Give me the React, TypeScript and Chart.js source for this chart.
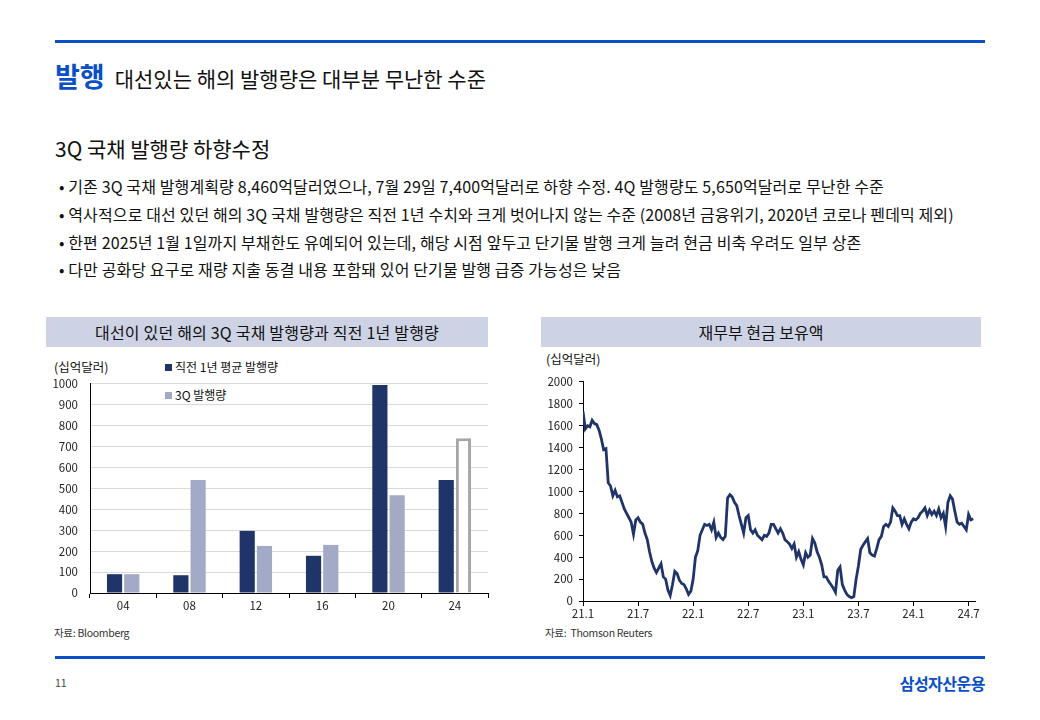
import React, { useEffect, useRef } from "react";
import { Chart, registerables } from "chart.js";

Chart.register(...registerables);

const FONT = '"Noto Sans CJK KR", "Noto Sans", sans-serif';
const NAVY = "#1f3468";
const LIGHT = "#a3aac6";
const BLUE = "#0a4fc8";

// Left chart data
const barCategories = ["04", "08", "12", "16", "20", "24"];
const prevYearAvg = [90, 85, 297, 178, 995, 540];
const q3Issuance = [90, 540, 225, 230, 468, 740];
const barYTicks = [0, 100, 200, 300, 400, 500, 600, 700, 800, 900, 1000];

// Right chart data (weekly-ish samples, quarter-month step from Jan 2021)
const cashStepMonths = 0.25;
const cash2021H1 = [1730, 1570, 1600, 1590, 1650, 1620, 1610, 1560, 1480, 1380, 1390, 1080, 1050, 960, 1010, 950, 960, 900, 840, 800, 760, 720, 610, 740];
const cash2021H2 = [760, 720, 700, 620, 560, 450, 360, 300, 260, 300, 340, 220, 200, 100, 50, 150, 270, 250, 190, 160, 150, 110, 60, 90];
const cash2022H1 = [200, 400, 460, 600, 650, 700, 690, 700, 650, 720, 580, 620, 580, 560, 590, 940, 970, 950, 900, 870, 780, 700, 620, 760];
const cash2022H2 = [780, 650, 620, 650, 600, 580, 560, 600, 590, 620, 700, 700, 660, 620, 660, 620, 560, 540, 520, 480, 520, 400, 450, 380];
const cash2023H1 = [330, 440, 400, 420, 570, 530, 450, 400, 330, 220, 220, 180, 150, 120, 80, 280, 310, 150, 100, 60, 40, 30, 40, 200];
const cash2023H2 = [320, 470, 510, 540, 570, 440, 420, 410, 480, 560, 590, 680, 700, 680, 720, 850, 820, 780, 780, 700, 750, 700, 660, 720];
const cash2024 = [750, 740, 760, 800, 820, 850, 780, 830, 790, 820, 780, 840, 760, 800, 680, 900, 960, 930, 820, 720, 700, 710, 680, 650, 790, 740, 750];
const cashBalance = [...cash2021H1, ...cash2021H2, ...cash2022H1, ...cash2022H2, ...cash2023H1, ...cash2023H2, ...cash2024];
const cashTickLabels = ["21.1", "21.7", "22.1", "22.7", "23.1", "23.7", "24.1", "24.7"];
const cashYTicks = [0, 200, 400, 600, 800, 1000, 1200, 1400, 1600, 1800, 2000];

const bullets = [
  "기존 3Q 국채 발행계획량 8,460억달러였으나, 7월 29일 7,400억달러로 하향 수정. 4Q 발행량도 5,650억달러로 무난한 수준",
  "역사적으로 대선 있던 해의 3Q 국채 발행량은 직전 1년 수치와 크게 벗어나지 않는 수준 (2008년 금융위기, 2020년 코로나 펜데믹 제외)",
  "한편 2025년 1월 1일까지 부채한도 유예되어 있는데, 해당 시점 앞두고 단기물 발행 크게 늘려 현금 비축 우려도 일부 상존",
  "다만 공화당 요구로 재량 지출 동결 내용 포함돼 있어 단기물 발행 급증 가능성은 낮음",
];

const tickFont = { family: FONT, size: 11.5 };

function BarChart() {
  const ref = useRef<HTMLCanvasElement | null>(null);
  useEffect(() => {
    if (!ref.current) return;
    const n = barCategories.length;
    const chart = new Chart(ref.current, {
      type: "bar",
      data: {
        labels: barCategories,
        datasets: [
          {
            label: "직전 1년 평균 발행량",
            data: prevYearAvg,
            backgroundColor: NAVY,
            borderWidth: 0,
            barPercentage: 0.88,
            categoryPercentage: 0.52,
          },
          {
            label: "3Q 발행량",
            data: q3Issuance,
            backgroundColor: q3Issuance.map((_, i) => (i === n - 1 ? "#ffffff" : LIGHT)),
            borderColor: q3Issuance.map((_, i) => (i === n - 1 ? "#a6a6a6" : LIGHT)),
            borderWidth: q3Issuance.map((_, i) => (i === n - 1 ? 3 : 0)),
            barPercentage: 0.88,
            categoryPercentage: 0.52,
          },
        ],
      },
      options: {
        animation: false,
        responsive: false,
        maintainAspectRatio: false,
        layout: { padding: { top: 8, right: 2, left: 0, bottom: 0 } },
        plugins: { legend: { display: false }, tooltip: { enabled: false } },
        scales: {
          x: {
            grid: { offset: true, drawOnChartArea: false, drawTicks: true, tickLength: 5, color: "#000" },
            border: { color: "#000", width: 1 },
            ticks: { color: "#222", font: tickFont, padding: 1 },
            afterFit: (s: any) => {
              s.height = 23;
            },
          },
          y: {
            min: 0,
            max: 1000,
            afterBuildTicks: (s: any) => {
              s.ticks = barYTicks.map((v) => ({ value: v }));
            },
            grid: { color: "#d9d9d9", drawTicks: false, lineWidth: 1 },
            border: { color: "#000", width: 1 },
            ticks: { color: "#222", font: tickFont, padding: 12, callback: (v: any) => String(v) },
            afterFit: (s: any) => {
              s.width = 50;
            },
          },
        },
      },
    });
    return () => chart.destroy();
  }, []);
  return <canvas ref={ref} width={450} height={251} style={{ position: "absolute", left: 40, top: 365, width: 450, height: 251 }} />;
}

function LineChart() {
  const ref = useRef<HTMLCanvasElement | null>(null);
  useEffect(() => {
    if (!ref.current) return;
    const points = cashBalance.map((v, i) => ({ x: i * cashStepMonths, y: v }));
    const chart = new Chart(ref.current, {
      type: "line",
      data: {
        datasets: [
          {
            label: "재무부 현금 보유액",
            data: points,
            borderColor: NAVY,
            borderWidth: 2.8,
            pointRadius: 0,
            tension: 0,
          },
        ],
      },
      options: {
        animation: false,
        responsive: false,
        maintainAspectRatio: false,
        layout: { padding: { top: 10, right: 6, left: 0, bottom: 0 } },
        plugins: { legend: { display: false }, tooltip: { enabled: false } },
        scales: {
          x: {
            type: "linear",
            min: 0,
            max: 42.7,
            afterBuildTicks: (s: any) => {
              s.ticks = cashTickLabels.map((_, i) => ({ value: i * 6 }));
            },
            grid: { drawOnChartArea: false, drawTicks: true, tickLength: 5, color: "#000" },
            border: { color: "#000", width: 1 },
            ticks: {
              color: "#222",
              font: tickFont,
              padding: 1,
              maxRotation: 0,
              autoSkip: false,
              callback: (v: any) => cashTickLabels[Math.round(Number(v) / 6)] ?? "",
            },
            afterFit: (s: any) => {
              s.height = 22;
            },
          },
          y: {
            min: 0,
            max: 2000,
            afterBuildTicks: (s: any) => {
              s.ticks = cashYTicks.map((v) => ({ value: v }));
            },
            grid: { drawOnChartArea: false, drawTicks: true, tickLength: 4, color: "#000" },
            border: { color: "#000", width: 1 },
            ticks: { color: "#222", font: tickFont, padding: 6, callback: (v: any) => String(v) },
            afterFit: (s: any) => {
              s.width = 47;
            },
          },
        },
      },
    });
    return () => chart.destroy();
  }, []);
  return <canvas ref={ref} width={445} height={254} style={{ position: "absolute", left: 536, top: 369, width: 445, height: 254 }} />;
}

const abs = (o: React.CSSProperties): React.CSSProperties => ({ position: "absolute", whiteSpace: "nowrap", ...o });

export default function App() {
  useEffect(() => {
    document.body.style.margin = "0";
  }, []);
  return (
    <div style={{ position: "relative", width: 1040, height: 720, background: "#fff", fontFamily: FONT, color: "#111", overflow: "hidden" }}>
      <div style={abs({ left: 55, top: 40, width: 930, height: 3, background: BLUE })} />
      <div style={abs({ left: 55, top: 56, lineHeight: "40px" })}>
        <span style={{ color: BLUE, fontSize: 27, fontWeight: 700 }}>발행</span>
        <span style={{ fontSize: 21, marginLeft: 10 }}>대선있는 해의 발행량은 대부분 무난한 수준</span>
      </div>
      <div style={abs({ left: 55, top: 133, fontSize: 21, lineHeight: "30px" })}>3Q 국채 발행량 하향수정</div>
      {bullets.map((b, i) => (
        <div key={i} style={abs({ left: 59, top: 174 + i * 27.8, fontSize: 16, lineHeight: "24px", letterSpacing: 0.12 })}>
          • {b}
        </div>
      ))}
      <div style={abs({ left: 46, top: 317, width: 442, height: 30, background: "#cdd2e4", textAlign: "center", fontSize: 16, lineHeight: "30px", letterSpacing: 0.2 })}>
        대선이 있던 해의 3Q 국채 발행량과 직전 1년 발행량
      </div>
      <div style={abs({ left: 541, top: 317, width: 440, height: 30, background: "#cdd2e4", textAlign: "center", fontSize: 16, lineHeight: "30px" })}>
        재무부 현금 보유액
      </div>
      <div style={abs({ left: 54, top: 359, fontSize: 12.5, lineHeight: "16px" })}>(십억달러)</div>
      <div style={abs({ left: 165, top: 359, fontSize: 12, lineHeight: "16px", display: "flex", alignItems: "center" })}>
        <span style={{ display: "inline-block", width: 7, height: 7, background: NAVY, marginRight: 3 }} />직전 1년 평균 발행량
      </div>
      <div style={abs({ left: 165, top: 387, fontSize: 12, lineHeight: "16px", display: "flex", alignItems: "center" })}>
        <span style={{ display: "inline-block", width: 7, height: 7, background: LIGHT, marginRight: 3 }} />3Q 발행량
      </div>
      <div style={abs({ left: 546, top: 351, fontSize: 12.5, lineHeight: "16px" })}>(십억달러)</div>
      <BarChart />
      <LineChart />
      <div style={abs({ left: 54, top: 625, fontSize: 10.5, lineHeight: "16px", color: "#333", letterSpacing: -0.3 })}>자료: Bloomberg</div>
      <div style={abs({ left: 545, top: 625, fontSize: 10.5, lineHeight: "16px", color: "#333", letterSpacing: -0.3 })}>자료:&nbsp; Thomson Reuters</div>
      <div style={abs({ left: 55, top: 656, width: 930, height: 3, background: BLUE })} />
      <div style={abs({ left: 55, top: 675, fontSize: 10.5, lineHeight: "16px", color: "#444" })}>11</div>
      <div style={abs({ right: 55, top: 672, fontSize: 16, fontWeight: 700, lineHeight: "22px", color: BLUE, letterSpacing: -0.5 })}>삼성자산운용</div>
    </div>
  );
}
